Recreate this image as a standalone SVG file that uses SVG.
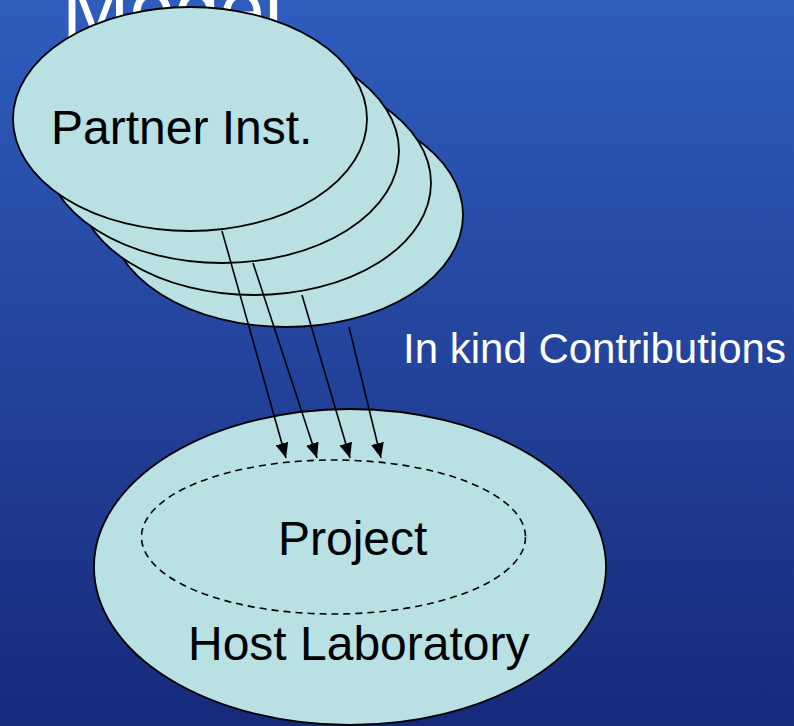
<svg xmlns="http://www.w3.org/2000/svg" width="794" height="726" viewBox="0 0 794 726">
  <defs>
    <linearGradient id="bg" x1="0" y1="0" x2="0" y2="1">
      <stop offset="0" stop-color="#2F5DBE"/>
      <stop offset="1" stop-color="#172A7A"/>
    </linearGradient>
    <marker id="arrow" markerUnits="userSpaceOnUse" markerWidth="16" markerHeight="14" refX="15" refY="6.5" orient="auto">
      <path d="M0,0 L15,6.5 L0,13 z" fill="#000"/>
    </marker>
    <style>
      .node { fill: #B9E0E3; stroke: #000; stroke-width: 1.8; }
      .dash { fill: none; stroke: #000; stroke-width: 1.6; stroke-dasharray: 7 5; }
      .lbl { font-family: "Liberation Sans", Arial, sans-serif; fill: #000; }
      .wht { font-family: "Liberation Sans", Arial, sans-serif; fill: #fff; }
      .conn line { stroke: #000; stroke-width: 1.6; marker-end: url(#arrow); }
    </style>
  </defs>
  <rect width="794" height="726" fill="url(#bg)"/>
  <text class="wht" x="62" y="37" font-size="81">Model</text>

  <g id="partner-4"><ellipse class="node" cx="286" cy="215" rx="177" ry="112"/></g>
  <g id="partner-3"><ellipse class="node" cx="254" cy="183" rx="177" ry="112"/></g>
  <g id="partner-2"><ellipse class="node" cx="222" cy="151" rx="177" ry="112"/></g>
  <g id="partner-1">
    <ellipse class="node" cx="190" cy="119" rx="177" ry="112"/>
    <text class="lbl" x="51" y="144" font-size="48">Partner Inst.</text>
  </g>

  <g id="host">
    <ellipse class="node" cx="350" cy="567" rx="256" ry="158"/>
    <text class="lbl" x="188" y="660" font-size="48">Host Laboratory</text>
  </g>
  <g id="project">
    <ellipse class="dash" cx="333.5" cy="537" rx="192" ry="77"/>
    <text class="lbl" x="278" y="555" font-size="48">Project</text>
  </g>

  <text class="wht" x="403" y="363" font-size="42">In kind Contributions</text>

  <g id="connectors" class="conn">
    <line x1="222" y1="231" x2="286" y2="458"/>
    <line x1="253" y1="263" x2="317" y2="458"/>
    <line x1="302" y1="295" x2="350" y2="458"/>
    <line x1="349" y1="327" x2="381" y2="458"/>
  </g>
</svg>
